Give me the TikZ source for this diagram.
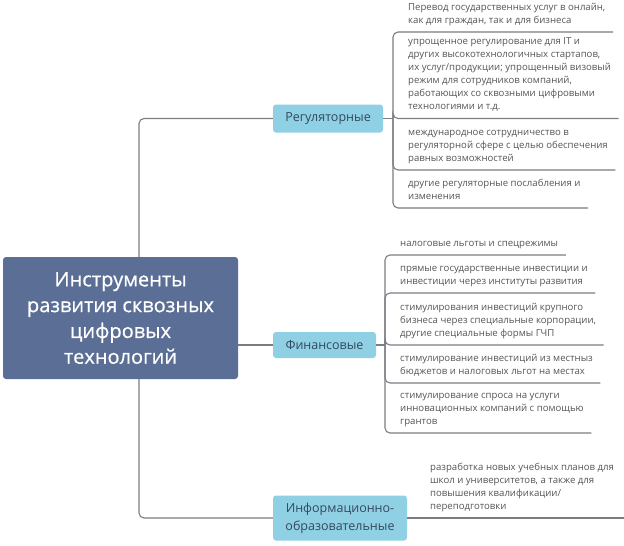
\documentclass[tikz,border=0pt]{standalone}
\usepackage{fontspec}
\setmainfont{Open Sans}
\newfontfamily\rootfont[FakeBold=0.6]{Open Sans}
\usetikzlibrary{positioning}
\definecolor{rootblue}{HTML}{5B6E96}
\definecolor{topicblue}{HTML}{8FD0E4}
\definecolor{linegray}{HTML}{7A7D82}
\definecolor{leafgray}{HTML}{555555}
\definecolor{topictext}{HTML}{34495E}

\begin{document}
\begin{tikzpicture}[x=1pt, y=-1pt,
    root/.style={rectangle, rounded corners=3pt, fill=rootblue, text=white, align=center,
        minimum width=235pt, minimum height=122pt, font=\rootfont\fontsize{20}{25.8}\selectfont},
    topic/.style={rectangle, rounded corners=3pt, fill=topicblue, text=topictext, align=center,
        font=\fontsize{12.5}{18}\selectfont},
    leaf/.style={anchor=south west, align=left, inner xsep=7.5pt, inner ysep=5.5pt,
        text depth=3pt, text=leafgray, font=\fontsize{9.6}{13}\selectfont},
    conn/.style={draw=linegray, line width=1.1pt, rounded corners=5pt}]
    \useasboundingbox (0,0) rectangle (624,546);

    % центральная тема
    \node[root] (root) at (120.5,318) {Инструменты\\ развития сквозных\\ цифровых\\ технологий};

    % темы первого уровня
    \node[topic, minimum width=110pt, minimum height=28pt] (reg) at (328,118.5) {Регуляторные};
    \node[topic, minimum width=103pt, minimum height=26pt] (fin) at (324.5,345) {Финансовые};
    \node[topic, minimum width=134pt, minimum height=45pt] (edu) at (340,518) {Информационно-\\образовательные};

    \coordinate (trunk) at (139,318);
    \draw[conn] (root.north -| trunk) |- (reg.west);
    \draw[conn] (root.south -| trunk) |- (edu.west);
    \draw[conn] (root.east |- fin.west) -- (fin.west);

    % регуляторные
    \coordinate (regbus) at (393,118.5);
    \node[leaf] (reg1) at (400.5,32) {Перевод государственных услуг в онлайн,\\ как для граждан, так и для бизнеса};
    \node[leaf] (reg2) at (400.5,118.5) {упрощенное регулирование для IT и\\ других высокотехнологичных стартапов,\\ их услуг/продукции; упрощенный визовый\\ режим для сотрудников компаний,\\ работающих со сквозными цифровыми\\ технологиями и т.д.};
    \node[leaf] (reg3) at (400.5,170) {международное сотрудничество в\\ регуляторной сфере с целью обеспечения\\ равных возможностей};
    \node[leaf] (reg4) at (400.5,208) {другие регуляторные послабления и\\ изменения};
    \draw[conn] (reg.east) -- (regbus);
    \foreach \n in {reg1,reg2,reg3,reg4}
        \draw[conn] (regbus) |- (\n.south east);

    % финансовые
    \coordinate (finbus) at (385,345);
    \node[leaf] (fin1) at (392.5,255) {налоговые льготы и спецрежимы};
    \node[leaf] (fin2) at (392.5,293) {прямые государственные инвестиции и\\ инвестиции через институты развития};
    \node[leaf] (fin3) at (392.5,345) {стимулирования инвестиций крупного\\ бизнеса через специальные корпорации,\\ другие специальные формы ГЧП};
    \node[leaf] (fin4) at (392.5,383) {стимулирование инвестиций из местныз\\ бюджетов и налоговых льгот на местах};
    \node[leaf] (fin5) at (392.5,433) {стимулирование спроса на услуги\\ инновационных компаний с помощью\\ грантов};
    \draw[conn] (fin.east) -- (finbus);
    \foreach \n in {fin1,fin2,fin3,fin4,fin5}
        \draw[conn] (finbus) |- (\n.south east);

    % информационно-образовательные
    \node[leaf] (edu1) at (422.5,518) {разработка новых учебных планов для\\ школ и университетов, а также для\\ повышения квалификации/\\ переподготовки};
    \draw[conn] (edu.east) -- (edu.east -| edu1.south east) -- ++(4,0);
\end{tikzpicture}
\end{document}
